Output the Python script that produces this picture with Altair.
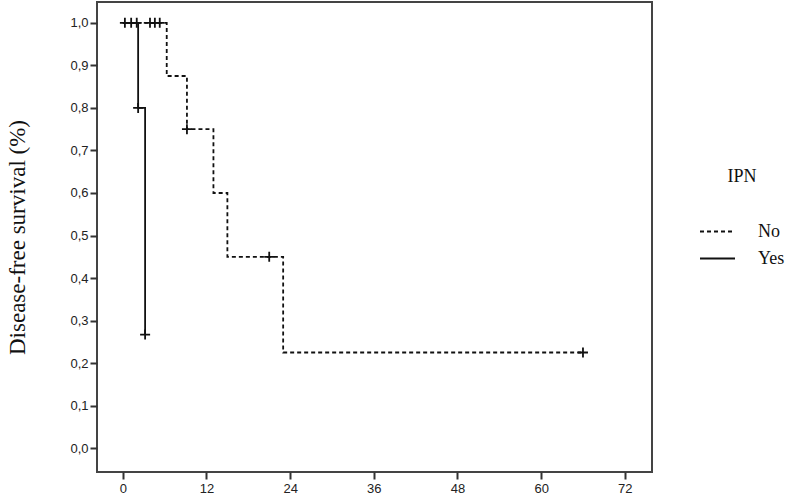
import altair as alt
import pandas as pd

# Step curves (time in months, survival proportion)
no_times = [0, 6.3, 9.2, 13.0, 15.0, 23.0, 66.0]
no_surv = [1.0, 0.875, 0.75, 0.6, 0.45, 0.225, 0.225]
yes_times = [0, 2.2, 3.2]
yes_surv = [1.0, 0.8, 0.267]

# Censored observations
no_cens_times = [3.9, 4.6, 5.3, 9.2, 21.0, 66.0]
no_cens_surv = [1.0, 1.0, 1.0, 0.75, 0.45, 0.225]
yes_cens_times = [0.3, 1.2, 2.0, 2.2, 3.2]
yes_cens_surv = [1.0, 1.0, 1.0, 0.8, 0.267]

x_ticks = [0, 12, 24, 36, 48, 60, 72]
y_ticks = [0.0, 0.1, 0.2, 0.3, 0.4, 0.5, 0.6, 0.7, 0.8, 0.9, 1.0]
groups = ["No", "Yes"]

curves = pd.DataFrame(
    {"t": no_times + yes_times,
     "s": no_surv + yes_surv,
     "IPN": ["No"] * len(no_times) + ["Yes"] * len(yes_times)}
)
cens = pd.DataFrame(
    {"t": no_cens_times + yes_cens_times,
     "s": no_cens_surv + yes_cens_surv,
     "IPN": ["No"] * len(no_cens_times) + ["Yes"] * len(yes_cens_times)}
)

xs = alt.Scale(domain=[-3.7, 75.9], nice=False, zero=False)
ys = alt.Scale(domain=[-0.056, 1.049], nice=False, zero=False)

x_axis = alt.Axis(values=x_ticks, title=None, grid=False, domain=False,
                  tickSize=7, tickWidth=2, tickColor="#333",
                  labelFont="Liberation Sans", labelFontSize=13,
                  labelColor="#222", labelPadding=3, format="d")
y_axis = alt.Axis(values=y_ticks, title="Disease-free survival (%)", grid=False,
                  domain=False, tickSize=7, tickWidth=2, tickColor="#333",
                  labelFont="Liberation Sans", labelFontSize=13, labelColor="#222",
                  labelExpr="replace(format(datum.value, '.1f'), '.', ',')",
                  labelPadding=2, titleFont="Liberation Serif", titleFontSize=23,
                  titleFontWeight="normal", titleColor="#111", titlePadding=40)

lines = alt.Chart(curves).mark_line(interpolate="step-after", strokeWidth=1.8,
                                    color="#111").encode(
    x=alt.X("t:Q", scale=xs, axis=x_axis),
    y=alt.Y("s:Q", scale=ys, axis=y_axis),
    strokeDash=alt.StrokeDash(
        "IPN:N",
        scale=alt.Scale(domain=groups, range=[[4, 3], [1, 0]]),
        legend=alt.Legend(
            title="IPN", orient="none", legendX=602, legendY=166,
            titleFont="Liberation Serif", titleFontSize=18,
            titleFontWeight="normal", titleColor="#111",
            titleAnchor="middle", titlePadding=33,
            labelFont="Liberation Serif", labelFontSize=18, labelColor="#111",
            symbolType="stroke", symbolSize=1225, symbolStrokeWidth=2,
            symbolStrokeColor="#111", labelOffset=22, clipHeight=25,
        ),
    ),
    detail="IPN:N",
)

marks = alt.Chart(cens).mark_point(
    shape="M-1,0L1,0M0,-1L0,1", size=100, stroke="#111", strokeWidth=1.8,
    filled=False, opacity=1,
).encode(x=alt.X("t:Q", scale=xs), y=alt.Y("s:Q", scale=ys))

chart = alt.layer(lines, marks).properties(
    width=555, height=470,
    background="white",
    autosize=alt.AutoSizeParams(type="none"),
    padding={"left": 97, "top": 2, "right": 148, "bottom": 27},
).configure_view(stroke="#444", strokeWidth=2)

chart.save("out.html", embed_options={"renderer": "svg", "actions": False})
